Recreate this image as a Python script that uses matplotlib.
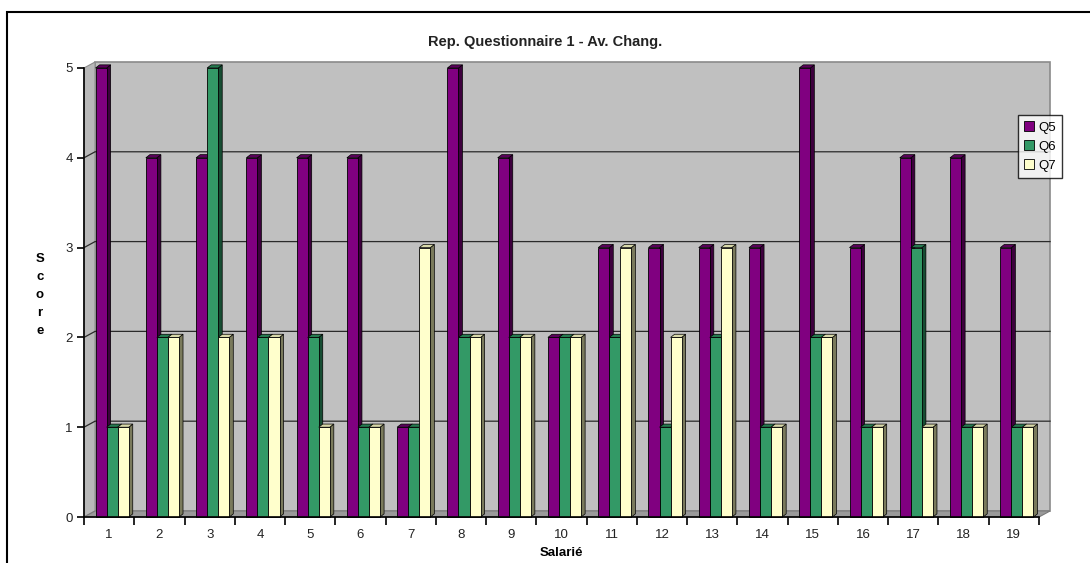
import matplotlib.pyplot as plt
from matplotlib.patches import Polygon, Rectangle, Patch

plt.rcParams['font.family'] = ['Liberation Sans', 'DejaVu Sans']

salaries = list(range(1, 20))
q5 = [5, 4, 4, 4, 4, 4, 1, 5, 4, 2, 3, 3, 3, 3, 5, 3, 4, 4, 3]
q6 = [1, 2, 5, 2, 2, 1, 1, 2, 2, 2, 2, 1, 2, 1, 2, 1, 3, 1, 1]
q7 = [1, 2, 2, 2, 1, 1, 3, 2, 2, 2, 3, 2, 3, 1, 2, 1, 1, 1, 1]
series = [("Q5", q5), ("Q6", q6), ("Q7", q7)]

# front / side / top colours for each series
colors = {
    "Q5": ("#800080", "#3d003d", "#5a005a"),
    "Q6": ("#339966", "#174d33", "#267a50"),
    "Q7": ("#ffffcc", "#7a7a5c", "#d8d8a8"),
}

W, H = 1090, 563
fig = plt.figure(figsize=(W / 100, H / 100), dpi=100)
ax = fig.add_axes([84 / W, 46 / H, (1039 - 84) / W, (517 - 68) / H])
ax.set_xlim(0.5, 19.5)
ax.set_ylim(0, 5)
ax.patch.set_visible(False)

# depth of the back wall and of the bars, in data units
wdx, wdy = 0.22, 0.067
bdx, bdy = 0.08, 0.035
x0, x1 = 0.5, 19.5

# walls and floor
ax.add_patch(Rectangle((x0 + wdx, wdy), x1 - x0, 5, facecolor="#c0c0c0",
                       edgecolor="#8a8a8a", lw=1.2, clip_on=False, zorder=0))
ax.add_patch(Polygon([(x0, 0), (x0, 5), (x0 + wdx, 5 + wdy), (x0 + wdx, wdy)],
                     facecolor="#b8b8b8", edgecolor="#8a8a8a", lw=0.8,
                     clip_on=False, zorder=0.5))
ax.add_patch(Polygon([(x0, 0), (x1, 0), (x1 + wdx, wdy), (x0 + wdx, wdy)],
                     facecolor="#9a9a9a", edgecolor="#7a7a7a", lw=0.8,
                     clip_on=False, zorder=0.5))
for v in range(1, 5):
    ax.plot([x0, x0 + wdx, x1 + wdx], [v, v + wdy, v + wdy], color="#2a2a2a",
            lw=0.9, clip_on=False, zorder=1)

# 3D-looking bars
offsets = [-0.16, 0.06, 0.28]
bw = 0.22
z = 2
for i, s in enumerate(salaries):
    for (name, vals), off in zip(series, offsets):
        front, side, top = colors[name]
        h = vals[i]
        left = s + off - bw / 2
        right = left + bw
        ax.add_patch(Polygon([(right, 0), (right, h), (right + bdx, h + bdy), (right + bdx, bdy)],
                             facecolor=side, edgecolor="black", lw=0.5, zorder=z, clip_on=False))
        ax.add_patch(Polygon([(left, h), (right, h), (right + bdx, h + bdy), (left + bdx, h + bdy)],
                             facecolor=top, edgecolor="black", lw=0.5, zorder=z, clip_on=False))
        ax.add_patch(Rectangle((left, 0), bw, h, facecolor=front, edgecolor="black",
                               lw=0.6, zorder=z + 0.1, clip_on=False))
        z += 0.2

# axes and ticks
for side_name in ("top", "right"):
    ax.spines[side_name].set_visible(False)
ax.spines["left"].set_linewidth(1.2)
ax.spines["bottom"].set_linewidth(1.2)
ax.spines["left"].set_zorder(20)
ax.spines["bottom"].set_zorder(20)
ax.set_yticks(range(0, 6))
ax.set_yticklabels([str(v) for v in range(0, 6)], fontsize=9.5, color="#222222")
ax.set_xticks(salaries)
ax.set_xticklabels([str(s) for s in salaries], fontsize=9.5, color="#222222")
ax.set_xticks([x0 + k for k in range(20)], minor=True)
ax.tick_params(axis="x", which="major", length=0, pad=9)
ax.tick_params(axis="x", which="minor", length=6, width=1.2, direction="out")
ax.tick_params(axis="y", length=5, width=1.2, direction="out", pad=3)

ax.set_xlabel("Salarié", fontsize=9.5, fontweight="bold", labelpad=4)
fig.text(40 / W, 1 - 295 / H, "S\nc\no\nr\ne", fontsize=9.5, fontweight="bold",
         ha="center", va="center", linespacing=1.65)
fig.text(545 / W, 1 - 42 / H, "Rep. Questionnaire 1 - Av. Chang.", fontsize=10.5,
         fontweight="bold", ha="center", va="center", color="#222222")

handles = [Patch(facecolor=colors[n][0], edgecolor="black", lw=0.6) for n, _ in series]
leg = fig.legend(handles, [n for n, _ in series], loc="upper left",
                 bbox_to_anchor=(1018 / W, 1 - 115 / H), fontsize=9.5, frameon=True,
                 fancybox=False, handlelength=0.8, handleheight=0.8, handletextpad=0.3,
                 borderpad=0.45, labelspacing=0.5, borderaxespad=0)
leg.get_frame().set_edgecolor("black")
leg.get_frame().set_linewidth(1.0)

# outer chart frame
fig.add_artist(Rectangle((7 / W, -0.05), 1.1, 1 - 12 / H + 0.05, transform=fig.transFigure,
                         fill=False, edgecolor="black", lw=1.5))

fig.savefig("out.png", dpi=100)
